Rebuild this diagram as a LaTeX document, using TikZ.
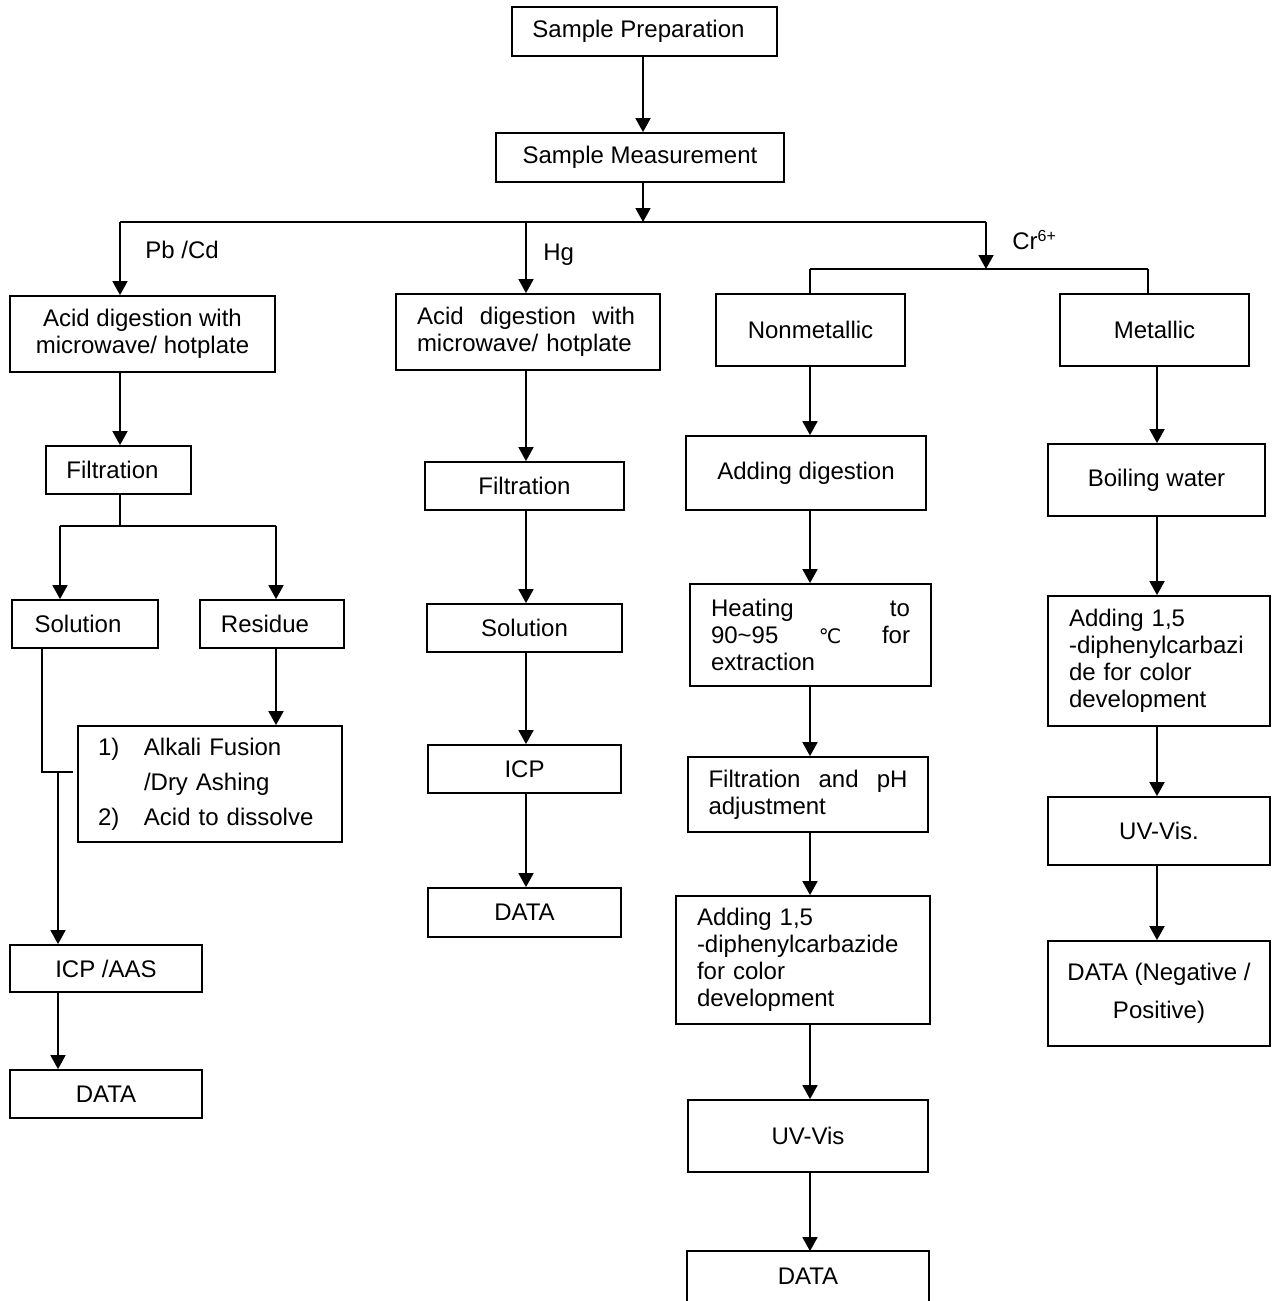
\documentclass[tikz,border=0pt]{standalone}
\usepackage{fontspec}
\setmainfont{Liberation Sans}
\newfontfamily\dejavu{DejaVu Sans}
\usetikzlibrary{arrows.meta}
\begin{document}
\begin{tikzpicture}[x=0.5pt,y=-0.5pt,
  every node/.style={font=\fontsize{12}{13.5}\selectfont},
  box/.style={draw, line width=0.9pt, rectangle, inner sep=0pt, align=center},
  arr/.style={line width=0.9pt, -{Triangle[length=7pt,width=7.5pt]}},
  ln/.style={line width=0.9pt},
  lbl/.style={anchor=west, inner sep=0pt}]
\useasboundingbox (0,0) rectangle (1272,1301);
\fill[white] (0,0) rectangle (1272,1301);

% top
\node[box, minimum width=132.5pt, minimum height=24.5pt] (sp) at (644.5,31.5) {Sample Preparation\hspace*{6pt}};
\node[box, minimum width=144pt, minimum height=24.5pt] (sm) at (640,157.5) {Sample Measurement};

% column 1 (Pb/Cd)
\node[box, minimum width=132.5pt, minimum height=38pt] (ad1) at (142.5,334) {Acid digestion with\\microwave/ hotplate};
\node[box, minimum width=72.5pt, minimum height=24pt] (filt1) at (118.5,470) {Filtration\hspace*{6pt}};
\node[box, minimum width=73pt, minimum height=24pt] (sol1) at (85,624) {Solution\hspace*{7pt}};
\node[box, minimum width=72pt, minimum height=24pt] (res) at (272,624) {Residue\hspace*{7pt}};
\node[box, minimum width=132pt, minimum height=58pt, align=left, inner xsep=10pt, text width=112pt,
  font=\fontsize{12}{17.5}\selectfont] (alk) at (210,784)
  {\makebox[23pt][l]{1)}Alkali Fusion\\\hspace*{23pt}/Dry Ashing\\\makebox[23pt][l]{2)}Acid to dissolve};
\node[box, minimum width=96pt, minimum height=23.5pt] (icp1) at (106,968.5) {ICP /AAS};
\node[box, minimum width=96pt, minimum height=24pt] (data1) at (106,1094) {DATA};

% column 2 (Hg)
\node[box, minimum width=132pt, minimum height=38pt, align=left, inner xsep=10.5pt, text width=111pt] (ad2) at (528,332)
  {\makebox[109pt][l]{Acid\hfill digestion\hfill with}\\microwave/ hotplate};
\node[box, minimum width=99.5pt, minimum height=24pt] (filt2) at (524.5,486) {Filtration};
\node[box, minimum width=97.5pt, minimum height=24pt] (sol2) at (524.5,628) {Solution};
\node[box, minimum width=96.5pt, minimum height=24pt] (icp2) at (524.5,769) {ICP};
\node[box, minimum width=96.5pt, minimum height=24.5pt] (data2) at (524.5,912.5) {DATA};

% column 3 (nonmetallic)
\node[box, minimum width=94.5pt, minimum height=36pt] (nm) at (810.5,330) {Nonmetallic};
\node[box, minimum width=120pt, minimum height=37pt] (addg) at (806,473) {Adding digestion};
\node[box, minimum height=51pt, align=left, inner xsep=10.5pt, text width=99.5pt] (heat) at (810.5,635)
  {\makebox[99.5pt][l]{Heating\hfill to}\\\makebox[99.5pt][l]{90\textasciitilde95\hfill{\dejavu\fontsize{10}{12}\selectfont ℃}\hfill for}\\extraction};
\node[box, minimum height=37.5pt, align=left, inner xsep=10.25pt, text width=99.5pt] (fph) at (808,794.5)
  {\makebox[99.5pt][l]{Filtration\hfill and\hfill pH}\\adjustment};
\node[box, minimum height=64pt, align=left, inner xsep=10.5pt, text width=106pt] (add1) at (803,960)
  {Adding 1,5\\-diphenylcarbazide\\for color\\development};
\node[box, minimum width=120pt, minimum height=36pt] (uv1) at (808,1136) {UV-Vis};
\node[box, draw=none, minimum width=120pt, minimum height=24pt] (data3) at (808,1276) {DATA};
\draw[ln] (data3.north west) rectangle ([yshift=-20pt]data3.south east);

% column 4 (metallic)
\node[box, minimum width=94.5pt, minimum height=36pt] (me) at (1154.5,330) {Metallic};
\node[box, minimum width=108.5pt, minimum height=36pt] (boil) at (1156.5,480) {Boiling water};
\node[box, minimum height=65pt, align=left, inner xsep=10.5pt, text width=90pt] (add2) at (1159,661)
  {Adding 1,5\\-diphenylcarbazi\\de for color\\development};
\node[box, minimum width=111pt, minimum height=34pt] (uv2) at (1159,831) {UV-Vis.};
\node[box, minimum width=111pt, minimum height=52.5pt, font=\fontsize{12}{19}\selectfont] (data4) at (1159,993.5)
  {DATA (Negative /\\Positive)};

% labels
\node[lbl] (lPb) at (145,250) {Pb /Cd};
\node[lbl] (lHg) at (543,255) {Hg};
\node[lbl] (lCr) at (1012,240) {Cr\textsuperscript{6+}};

% connectors top
\coordinate (xA) at (643,0);
\coordinate (jT) at (643,222);
\coordinate (jL) at (120,222);
\coordinate (jR) at (986,222);
\coordinate (jH) at (526,222);
\coordinate (jC) at (986,269);
\coordinate (cL) at (810,269);
\coordinate (cR) at (1148,269);
\draw[arr] (sp.south -| xA) -- (sm.north -| xA);
\draw[arr] (sm.south -| xA) -- (jT);
\draw[ln] (jL) -- (jR);
\draw[arr] (jL) -- (jL |- ad1.north);
\draw[arr] (jH) -- (jH |- ad2.north);
\draw[arr] (jR) -- (jC);
\draw[ln] (cL) -- (cR);
\draw[ln] (cL) -- (cL |- nm.north);
\draw[ln] (cR) -- (cR |- me.north);

% column 1 connectors
\coordinate (f1) at (120,526);
\coordinate (f1L) at (60,526);
\coordinate (f1R) at (276,526);
\coordinate (s1) at (42,772);
\coordinate (s2) at (73,772);
\coordinate (s3) at (58,772);
\draw[arr] (jL |- ad1.south) -- (jL |- filt1.north);
\draw[ln] (jL |- filt1.south) -- (f1);
\draw[ln] (f1L) -- (f1R);
\draw[arr] (f1L) -- (f1L |- sol1.north);
\draw[arr] (f1R) -- (f1R |- res.north);
\draw[arr] (f1R |- res.south) -- (f1R |- alk.north);
\draw[ln] (s1 |- sol1.south) -- (s1) -- (s2);
\draw[arr] (s3) -- (s3 |- icp1.north);
\draw[arr] (s3 |- icp1.south) -- (s3 |- data1.north);

% column 2 connectors
\draw[arr] (jH |- ad2.south) -- (jH |- filt2.north);
\draw[arr] (jH |- filt2.south) -- (jH |- sol2.north);
\draw[arr] (jH |- sol2.south) -- (jH |- icp2.north);
\draw[arr] (jH |- icp2.south) -- (jH |- data2.north);

% column 3 connectors
\coordinate (x3) at (810,0);
\draw[arr] (x3 |- nm.south) -- (x3 |- addg.north);
\draw[arr] (x3 |- addg.south) -- (x3 |- heat.north);
\draw[arr] (x3 |- heat.south) -- (x3 |- fph.north);
\draw[arr] (x3 |- fph.south) -- (x3 |- add1.north);
\draw[arr] (x3 |- add1.south) -- (x3 |- uv1.north);
\draw[arr] (x3 |- uv1.south) -- (x3 |- data3.north);

% column 4 connectors
\coordinate (x4) at (1157,0);
\draw[arr] (x4 |- me.south) -- (x4 |- boil.north);
\draw[arr] (x4 |- boil.south) -- (x4 |- add2.north);
\draw[arr] (x4 |- add2.south) -- (x4 |- uv2.north);
\draw[arr] (x4 |- uv2.south) -- (x4 |- data4.north);
\end{tikzpicture}
\end{document}
